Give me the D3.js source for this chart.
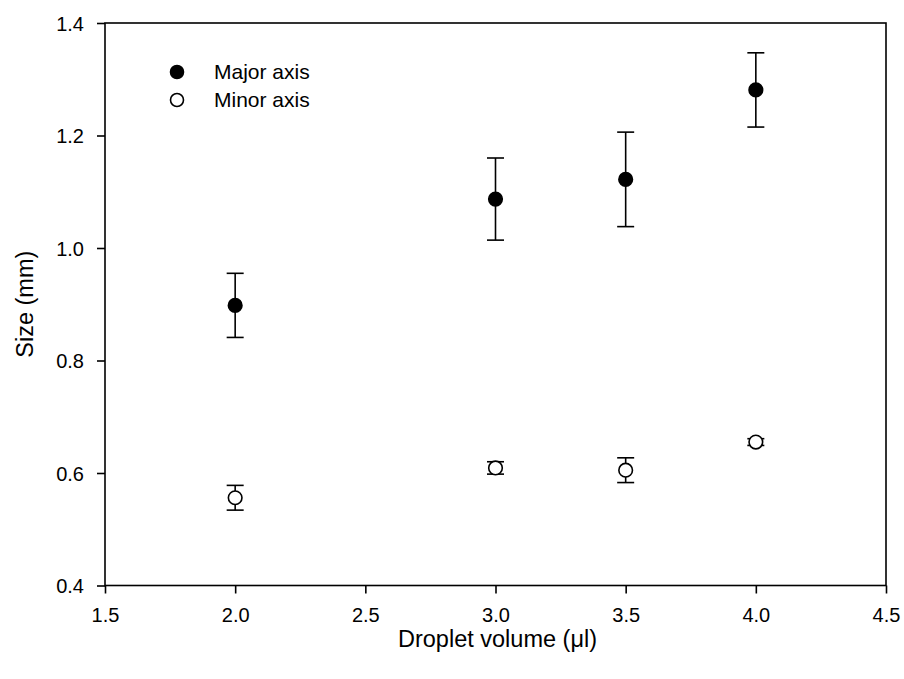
<!DOCTYPE html>
<html>
<head>
<meta charset="utf-8">
<script src="https://cdn.jsdelivr.net/npm/d3@7"></script>
<style>
  body { margin: 0; background: #fff; }
  svg { display: block; font-family: Arial, "Liberation Sans", sans-serif; }
</style>
</head>
<body>
<svg id="chart" width="904" height="679"></svg>
<script>
const volumes = [2.0, 3.0, 3.5, 4.0];
const majorMean = [0.898, 1.087, 1.122, 1.281];
const majorErr  = [0.057, 0.073, 0.084, 0.066];
const minorMean = [0.556, 0.609, 0.605, 0.655];
const minorErr  = [0.022, 0.011, 0.022, 0.006];
const xTicks = [1.5, 2.0, 2.5, 3.0, 3.5, 4.0, 4.5];
const yTicks = [0.4, 0.6, 0.8, 1.0, 1.2, 1.4];
const seriesNames = ["Major axis", "Minor axis"];

(function () {
const svg = d3.select("#chart");
const pL = 105, pR = 886, pT = 23, pB = 585.5;

const x = d3.scaleLinear().domain([1.5, 4.5]).range([pL, pR]);
const y = d3.scaleLinear().domain([0.4, 1.4]).range([pB, pT]);

// frame
svg.append("rect")
  .attr("x", pL).attr("y", pT)
  .attr("width", pR - pL).attr("height", pB - pT)
  .attr("fill", "none").attr("stroke", "#000").attr("stroke-width", 1.6);

const xAxis = svg.append("g")
  .attr("transform", `translate(0,${pB})`)
  .call(d3.axisBottom(x).tickValues(xTicks).tickFormat(d3.format(".1f")).tickSize(8).tickPadding(14));
const yAxis = svg.append("g")
  .attr("transform", `translate(${pL},0)`)
  .call(d3.axisLeft(y).tickValues(yTicks).tickFormat(d3.format(".1f")).tickSize(8).tickPadding(13));

[xAxis, yAxis].forEach(g => {
  g.attr("font-size", 20).attr("font-family", "Arial, 'Liberation Sans', sans-serif");
  g.select(".domain").remove();
  g.selectAll(".tick line").attr("stroke", "#000").attr("stroke-width", 1.6);
  g.selectAll(".tick text").attr("fill", "#000");
});
yAxis.selectAll(".tick text").attr("dy", "0.35em");

// axis titles
svg.append("text")
  .attr("x", (pL + pR) / 2 + 2).attr("y", 647)
  .attr("text-anchor", "middle").style("font-size", "23.5px")
  .text("Droplet volume (\u03bcl)");
svg.append("text")
  .attr("transform", `translate(33,${(pT + pB) / 2}) rotate(-90)`)
  .attr("text-anchor", "middle").style("font-size", "23.5px")
  .text("Size (mm)");

const capHalf = 8.5;
function drawSeries(means, errs, filled) {
  const g = svg.append("g");
  volumes.forEach((v, i) => {
    const cx = x(v);
    const yt = y(means[i] + errs[i]), yb = y(means[i] - errs[i]);
    g.append("line").attr("x1", cx).attr("x2", cx).attr("y1", yt).attr("y2", yb)
      .attr("stroke", "#000").attr("stroke-width", 1.6);
    [yt, yb].forEach(yy => g.append("line")
      .attr("x1", cx - capHalf).attr("x2", cx + capHalf).attr("y1", yy).attr("y2", yy)
      .attr("stroke", "#000").attr("stroke-width", 1.6));
    g.append("circle").attr("cx", cx).attr("cy", y(means[i])).attr("r", 6.8)
      .attr("fill", filled ? "#000" : "#fff").attr("stroke", "#000").attr("stroke-width", 1.6);
  });
}
drawSeries(majorMean, majorErr, true);
drawSeries(minorMean, minorErr, false);

// legend
const legend = svg.append("g");
seriesNames.forEach((name, i) => {
  const ly = 72 + i * 28;
  legend.append("circle").attr("cx", 177).attr("cy", ly).attr("r", 6.5)
    .attr("fill", i === 0 ? "#000" : "#fff").attr("stroke", "#000").attr("stroke-width", 1.6);
  legend.append("text").attr("x", 214).attr("y", ly).attr("dy", "0.35em")
    .style("font-size", "21px").text(name);
});
})();
</script>
</body>
</html>
